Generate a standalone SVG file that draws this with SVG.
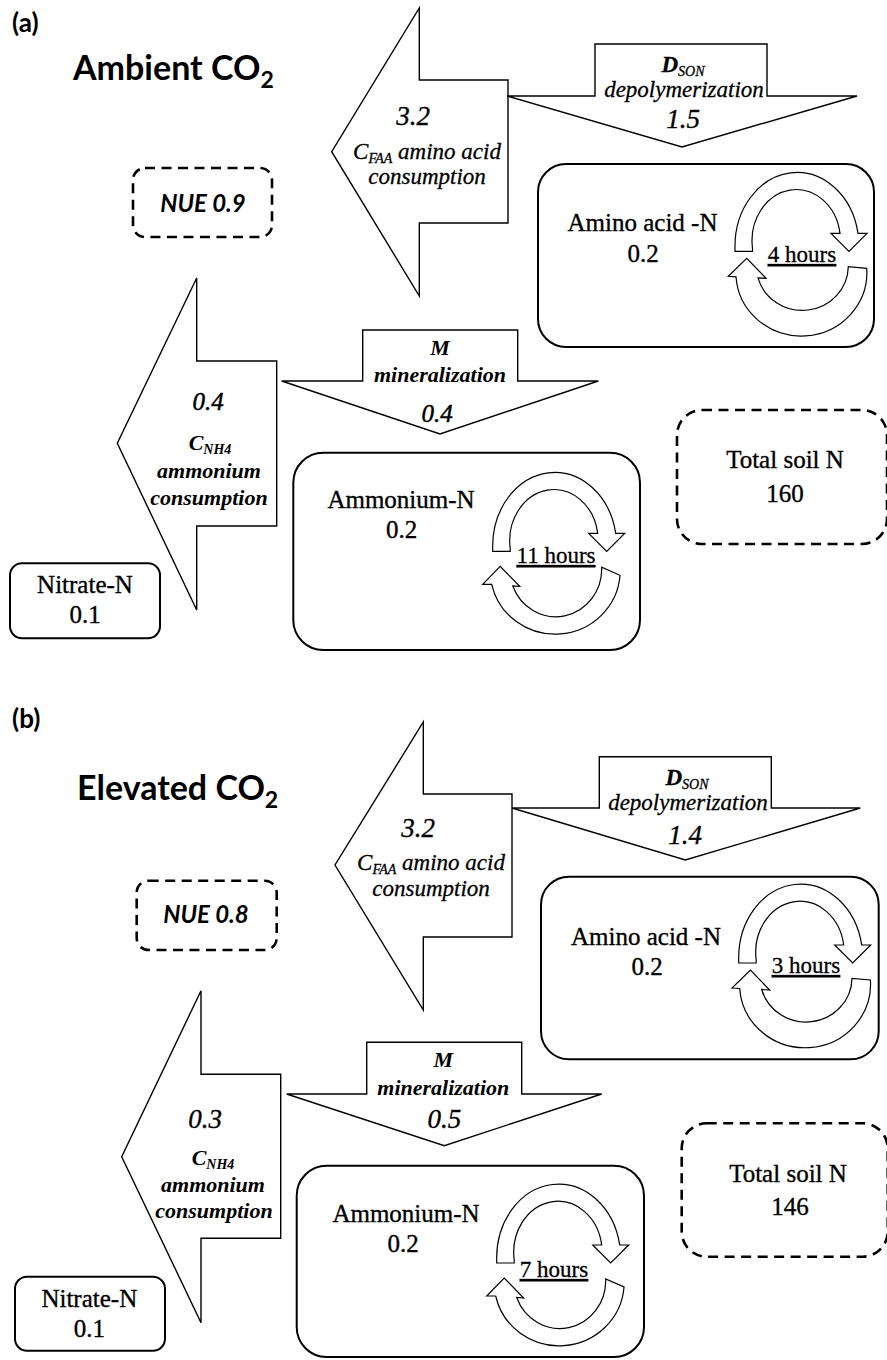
<svg xmlns="http://www.w3.org/2000/svg" xmlns:xlink="http://www.w3.org/1999/xlink" width="887" height="1360" viewBox="0 0 887 1360">
<style>
.box{fill:#fff;stroke:#000;stroke-width:2}
.dash{fill:none;stroke:#000;stroke-width:2.6;stroke-dasharray:10 6.5}
.arr{fill:#fff;stroke:#000;stroke-width:1.4;stroke-linejoin:miter}
.cyc{fill:#fff;stroke:#000;stroke-width:1.2;stroke-linejoin:miter}
.serif{font-family:'Liberation Serif','Times New Roman',Tinos,'DejaVu Serif',serif}
.lab{font-size:25px;text-anchor:middle;fill:#000;stroke:#000;stroke-width:0.35}
.hrs{font-size:23px;text-anchor:middle;text-decoration:underline;fill:#000;stroke:#000;stroke-width:0.3}
.it{font-style:italic;font-size:23px;text-anchor:middle;fill:#000;stroke:#000;stroke-width:0.3}
.bi{font-style:italic;font-weight:bold;font-size:22px;text-anchor:middle;fill:#000}
.num{font-style:italic;font-size:27px;text-anchor:middle;fill:#000;stroke:#000;stroke-width:0.35}
.numb{font-style:italic;font-size:25px;text-anchor:middle;fill:#000;stroke:#000;stroke-width:0.5}
.sub{font-size:14px}
.sans{font-family:Lato,'Liberation Sans',sans-serif}
.tag{font-weight:bold;font-size:26px;fill:#000}
.title{font-weight:bold;font-size:34px;fill:#000}
.nue{font-weight:bold;font-style:italic;font-size:24px;text-anchor:middle;fill:#000}
</style>
<defs>
<path id="cycTop" class="cyc" d="M0,83 L0,80 A62,74 0 0 1 123,65 L132,65 L114,83 L96,65 L105,65 A44,51 0 0 0 17.5,80 L17.5,83 Z"/>
<path id="cycBotA" class="cyc" d="M131.7,100 A65,63 0 0 1 1,108.5 L-6.7,108 L11.7,90 L31,110 L23,109.5 A46,44.5 0 0 0 113.3,98.4 Z"/>
<path id="cycBotN" class="cyc" d="M127.3,107 A65,63.5 0 0 1 -1,116 L-10,116 L7.5,98 L27,118 L20,117.5 A46,48 0 0 0 109,99 Z"/>
</defs>

<!-- Panel (a) -->
<g id="panel-a-label" class="sans">
<text class="tag" x="12" y="32">(a)</text>
<text class="title" x="73" y="80">Ambient CO<tspan font-size="23" dy="8">2</tspan></text>
</g>

<g id="nue-a">
<rect class="dash" x="133" y="168" width="139" height="69" rx="12"/>
<text class="sans nue" x="203" y="212">NUE 0.9</text>
</g>

<g id="connectors" class="serif">
<g id="cfaa-a">
<polygon class="arr" points="419.3,8 419.3,80 508,80 508,223 419.3,223 419.3,296 331.7,151.7"/>
<text class="num" x="413" y="125">3.2</text>
<text class="it" x="427" y="159">C<tspan class="sub" dy="4">FAA</tspan><tspan dy="-4"> amino acid</tspan></text>
<text class="it" x="427" y="184">consumption</text>
</g>
<g id="dson-a">
<polygon class="arr" points="595,44 767,44 767,96 857,96 682,147 507,96 595,96"/>
<text class="it" x="683" y="72"><tspan font-weight="bold">D</tspan><tspan class="sub" dy="4">SON</tspan></text>
<text class="it" x="684" y="97">depolymerization</text>
<text class="num" x="683" y="128">1.5</text>
</g>
<g id="cnh4-a">
<polygon class="arr" points="196.7,278 196.7,361 276.7,361 276.7,526 196.7,526 196.7,610 117.3,443.3"/>
<text class="numb" x="208" y="410">0.4</text>
<text class="bi" x="210" y="450">C<tspan class="sub" dy="4">NH4</tspan></text>
<text class="bi" x="209" y="478">ammonium</text>
<text class="bi" x="209" y="505">consumption</text>
</g>
<g id="m-a">
<polygon class="arr" points="362.7,330 517.7,330 517.7,381 598.3,381 440,434 281.7,381 362.7,381"/>
<text class="bi" x="440" y="355">M</text>
<text class="bi" x="440" y="382">mineralization</text>
<text class="numb" x="437" y="422">0.4</text>
</g>
<g id="cfaa-b">
<polygon class="arr" points="423.3,722 423.3,794 512,794 512,937 423.3,937 423.3,1010 335,865"/>
<text class="num" x="418" y="837">3.2</text>
<text class="it" x="431" y="870">C<tspan class="sub" dy="4">FAA</tspan><tspan dy="-4"> amino acid</tspan></text>
<text class="it" x="431" y="896">consumption</text>
</g>
<g id="dson-b">
<polygon class="arr" points="599.3,756.7 771.3,756.7 771.3,808 860.3,808 685.3,860 512,808 599.3,808"/>
<text class="it" x="687" y="785"><tspan font-weight="bold">D</tspan><tspan class="sub" dy="4">SON</tspan></text>
<text class="it" x="688" y="810">depolymerization</text>
<text class="num" x="685" y="844">1.4</text>
</g>
<g id="cnh4-b">
<polygon class="arr" points="201,990.7 201,1074.3 280.7,1074.3 280.7,1238.3 201,1238.3 201,1322.7 121.7,1156.7"/>
<text class="num" x="205" y="1128">0.3</text>
<text class="bi" x="213" y="1165">C<tspan class="sub" dy="4">NH4</tspan></text>
<text class="bi" x="213" y="1192">ammonium</text>
<text class="bi" x="214" y="1218">consumption</text>
</g>
<g id="m-b">
<polygon class="arr" points="366.7,1042.3 521.7,1042.3 521.7,1094 601.7,1094 444.3,1145.7 286.7,1094 366.7,1094"/>
<text class="bi" x="443.3" y="1067">M</text>
<text class="bi" x="443.3" y="1095">mineralization</text>
<text class="num" x="444.3" y="1128">0.5</text>
</g>
</g>

<g id="amino-a" class="serif">
<rect class="box" x="538" y="164" width="336" height="183" rx="28"/>
<text class="lab" x="642.5" y="231">Amino acid -N</text>
<text class="lab" x="643" y="262">0.2</text>
<g transform="translate(735,168.3)"><use xlink:href="#cycTop"/><use xlink:href="#cycBotA"/></g>
<text class="hrs" x="802" y="262">4 hours</text>
</g>

<g id="ammonium-a" class="serif">
<rect class="box" x="293.3" y="452.7" width="346.7" height="197.3" rx="30"/>
<text class="lab" x="401" y="508">Ammonium-N</text>
<text class="lab" x="401.7" y="538">0.2</text>
<g transform="translate(492.7,468.3)"><use xlink:href="#cycTop"/><use xlink:href="#cycBotN"/></g>
<text class="hrs" x="556" y="563">11 hours</text>
</g>

<g id="totalsoil-a" class="serif">
<rect class="dash" x="677" y="410" width="210" height="134" rx="25"/>
<text class="lab" x="785" y="468">Total soil N</text>
<text class="lab" x="785" y="502">160</text>
</g>

<g id="nitrate-a" class="serif">
<rect class="box" x="10" y="563.3" width="150" height="75" rx="12"/>
<text class="lab" x="85" y="593">Nitrate-N</text>
<text class="lab" x="85" y="623">0.1</text>
</g>

<!-- Panel (b) -->
<g id="panel-b-label" class="sans">
<text class="tag" x="12" y="728">(b)</text>
<text class="title" x="77" y="800">Elevated CO<tspan font-size="23" dy="8">2</tspan></text>
</g>

<g id="nue-b">
<rect class="dash" x="136.7" y="880.7" width="140" height="69.3" rx="12"/>
<text class="sans nue" x="206" y="923">NUE 0.8</text>
</g>

<g id="amino-b" class="serif">
<rect class="box" x="541" y="876.7" width="337.7" height="182.6" rx="28"/>
<text class="lab" x="646" y="945">Amino acid -N</text>
<text class="lab" x="647" y="975">0.2</text>
<g transform="translate(738.7,880)"><use xlink:href="#cycTop"/><use xlink:href="#cycBotA"/></g>
<text class="hrs" x="806" y="973">3 hours</text>
</g>

<g id="ammonium-b" class="serif">
<rect class="box" x="296.7" y="1165.7" width="347.3" height="191.3" rx="30"/>
<text class="lab" x="406" y="1222">Ammonium-N</text>
<text class="lab" x="403" y="1252">0.2</text>
<g transform="translate(496.7,1180)"><use xlink:href="#cycTop"/><use xlink:href="#cycBotN"/></g>
<text class="hrs" x="554" y="1277">7 hours</text>
</g>

<g id="totalsoil-b" class="serif">
<rect class="dash" x="681.7" y="1123.3" width="206" height="133.4" rx="25"/>
<text class="lab" x="788" y="1182">Total soil N</text>
<text class="lab" x="790" y="1215">146</text>
</g>

<g id="nitrate-b" class="serif">
<rect class="box" x="15" y="1276.7" width="150" height="74" rx="12"/>
<text class="lab" x="89.3" y="1307">Nitrate-N</text>
<text class="lab" x="89.3" y="1337">0.1</text>
</g>
</svg>
